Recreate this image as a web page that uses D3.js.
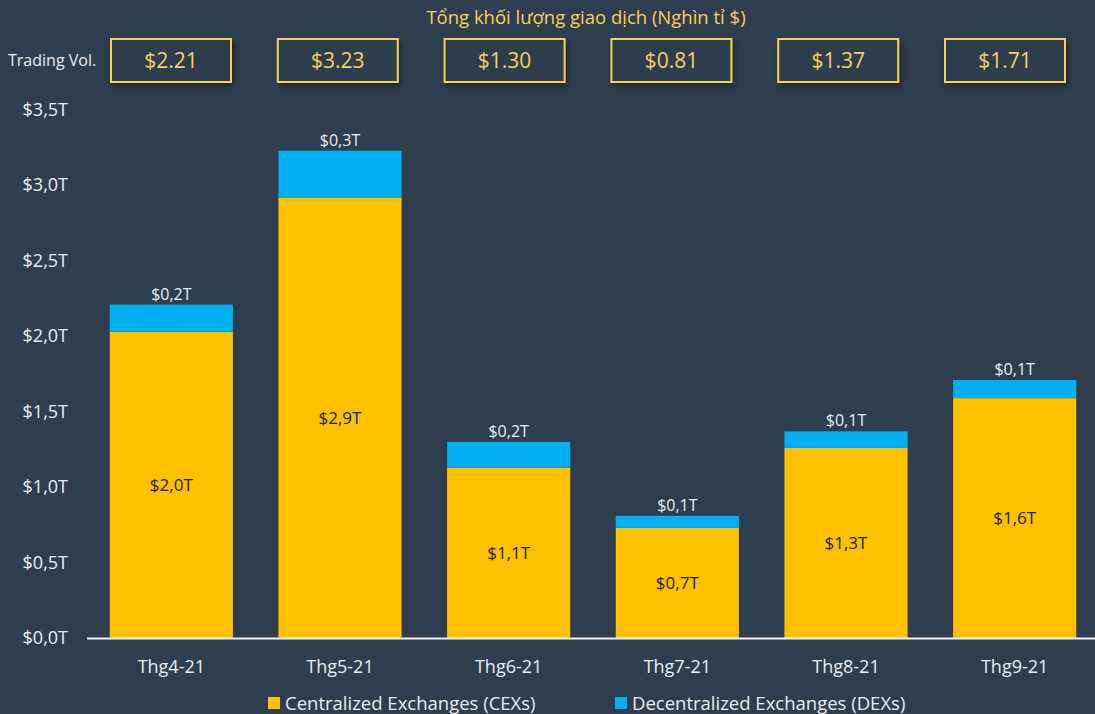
<!DOCTYPE html>
<html>
<head>
<meta charset="utf-8">
<script src="https://cdn.jsdelivr.net/npm/d3@7"></script>
<style>
  html, body { margin: 0; padding: 0; background: #2f3e4e; }
  svg { display: block; font-family: "Open Sans", "Noto Sans", sans-serif; }
</style>
</head>
<body>
<svg id="chart" width="1095" height="714"></svg>
<script>
// Monthly trading volume, trillions of USD
const months = ["Thg4-21", "Thg5-21", "Thg6-21", "Thg7-21", "Thg8-21", "Thg9-21"];
const cexValues = [2.03, 2.92, 1.13, 0.73, 1.26, 1.59];
const dexValues = [0.18, 0.31, 0.17, 0.08, 0.11, 0.12];
const totalVolume = [2.21, 3.23, 1.30, 0.81, 1.37, 1.71];
const yTicks = [0, 0.5, 1, 1.5, 2, 2.5, 3, 3.5];
const seriesNames = ["Centralized Exchanges (CEXs)", "Decentralized Exchanges (DEXs)"];
const titleText = "Tổng khối lượng giao dịch (Nghìn tỉ $)";
const rowLabel = "Trading Vol.";

const colors = { cex: "#ffc000", dex: "#00b0f0", gold: "#f7d05a", text: "#e8ecef" };

const svg = d3.select("#chart");
const width = 1095, height = 714;
const margin = { top: 110, right: 0, bottom: 76, left: 87 };
const plotBottom = height - margin.bottom; // 638

const x = d3.scaleBand()
  .domain(months)
  .range([margin.left, 1099])
  .paddingInner(0.27)
  .paddingOuter(0.135);

// Header boxes sit on their own, slightly tighter, spacing
const xBox = d3.scalePoint()
  .domain(months)
  .range([171, 1005]);

const y = d3.scaleLinear()
  .domain([0, 3.5])
  .range([plotBottom, 110]);

const rows = months.map((m, i) => ({ month: m, cex: cexValues[i], dex: dexValues[i], total: totalVolume[i] }));
const stack = d3.stack().keys(["cex", "dex"])(rows);

// Drop shadow for the total-volume boxes
const defs = svg.append("defs");
const shadow = defs.append("filter").attr("id", "boxShadow")
  .attr("x", "-20%").attr("y", "-30%").attr("width", "140%").attr("height", "160%");
shadow.append("feDropShadow").attr("dx", 2).attr("dy", 3).attr("stdDeviation", 3)
  .attr("flood-color", "#000").attr("flood-opacity", 0.45);

// Title
svg.append("text")
  .attr("x", 586).attr("y", 24)
  .attr("text-anchor", "middle")
  .attr("fill", colors.gold)
  .attr("font-size", 18.5)
  .text(titleText);

// Trading volume row
svg.append("text")
  .attr("x", 8).attr("y", 66)
  .attr("fill", colors.text)
  .attr("font-size", 16)
  .text(rowLabel);

const boxW = 120, boxH = 43;
const boxes = svg.append("g").selectAll("g").data(rows).join("g")
  .attr("transform", d => `translate(${xBox(d.month) - boxW / 2},39)`);
boxes.append("rect")
  .attr("width", boxW).attr("height", boxH)
  .attr("fill", "#2f3e4e")
  .attr("stroke", colors.gold)
  .attr("stroke-width", 2)
  .attr("filter", "url(#boxShadow)");
boxes.append("text")
  .attr("x", boxW / 2).attr("y", boxH / 2 + 7.5)
  .attr("text-anchor", "middle")
  .attr("fill", colors.gold)
  .attr("font-size", 21)
  .text(d => "$" + d3.format(".2f")(d.total));

// Y axis labels
const fmtT = v => "$" + d3.format(".1f")(v).replace(".", ",") + "T";
svg.append("g").selectAll("text").data(yTicks).join("text")
  .attr("x", 68).attr("y", d => y(d) + 6)
  .attr("text-anchor", "end")
  .attr("fill", colors.text)
  .attr("font-size", 18)
  .text(fmtT);

// Stacked bars
const layerColors = [colors.cex, colors.dex];
svg.append("g").selectAll("g").data(stack).join("g")
  .attr("fill", (d, i) => layerColors[i])
  .selectAll("rect").data(d => d).join("rect")
  .attr("x", d => x(d.data.month))
  .attr("y", d => y(d[1]))
  .attr("width", x.bandwidth())
  .attr("height", d => y(d[0]) - y(d[1]));

// Baseline
svg.append("line")
  .attr("x1", 87).attr("x2", width)
  .attr("y1", plotBottom + 0.5).attr("y2", plotBottom + 0.5)
  .attr("stroke", "#f2f2f2").attr("stroke-width", 2);

// CEX labels inside bars
svg.append("g").selectAll("text").data(stack[0]).join("text")
  .attr("x", d => x(d.data.month) + x.bandwidth() / 2)
  .attr("y", d => (y(d[0]) + y(d[1])) / 2 + 6)
  .attr("text-anchor", "middle")
  .attr("fill", "#1e1e1e")
  .attr("font-size", 17)
  .text(d => fmtT(d[1] - d[0]));

// DEX labels above bars
svg.append("g").selectAll("text").data(stack[1]).join("text")
  .attr("x", d => x(d.data.month) + x.bandwidth() / 2)
  .attr("y", d => y(d[1]) - 5)
  .attr("text-anchor", "middle")
  .attr("fill", colors.text)
  .attr("font-size", 16)
  .text(d => fmtT(d[1] - d[0]));

// X axis category labels
svg.append("g").selectAll("text").data(months).join("text")
  .attr("x", d => x(d) + x.bandwidth() / 2)
  .attr("y", 673)
  .attr("text-anchor", "middle")
  .attr("fill", colors.text)
  .attr("font-size", 18)
  .text(d => d);

// Legend
const legendX = [268, 615];
const legend = svg.append("g").selectAll("g").data(seriesNames).join("g")
  .attr("transform", (d, i) => `translate(${legendX[i]},697)`);
legend.append("rect")
  .attr("width", 12).attr("height", 12)
  .attr("fill", (d, i) => layerColors[i]);
legend.append("text")
  .attr("x", 17).attr("y", 13)
  .attr("fill", colors.text)
  .attr("font-size", 18.5)
  .text(d => d);
</script>
</body>
</html>
